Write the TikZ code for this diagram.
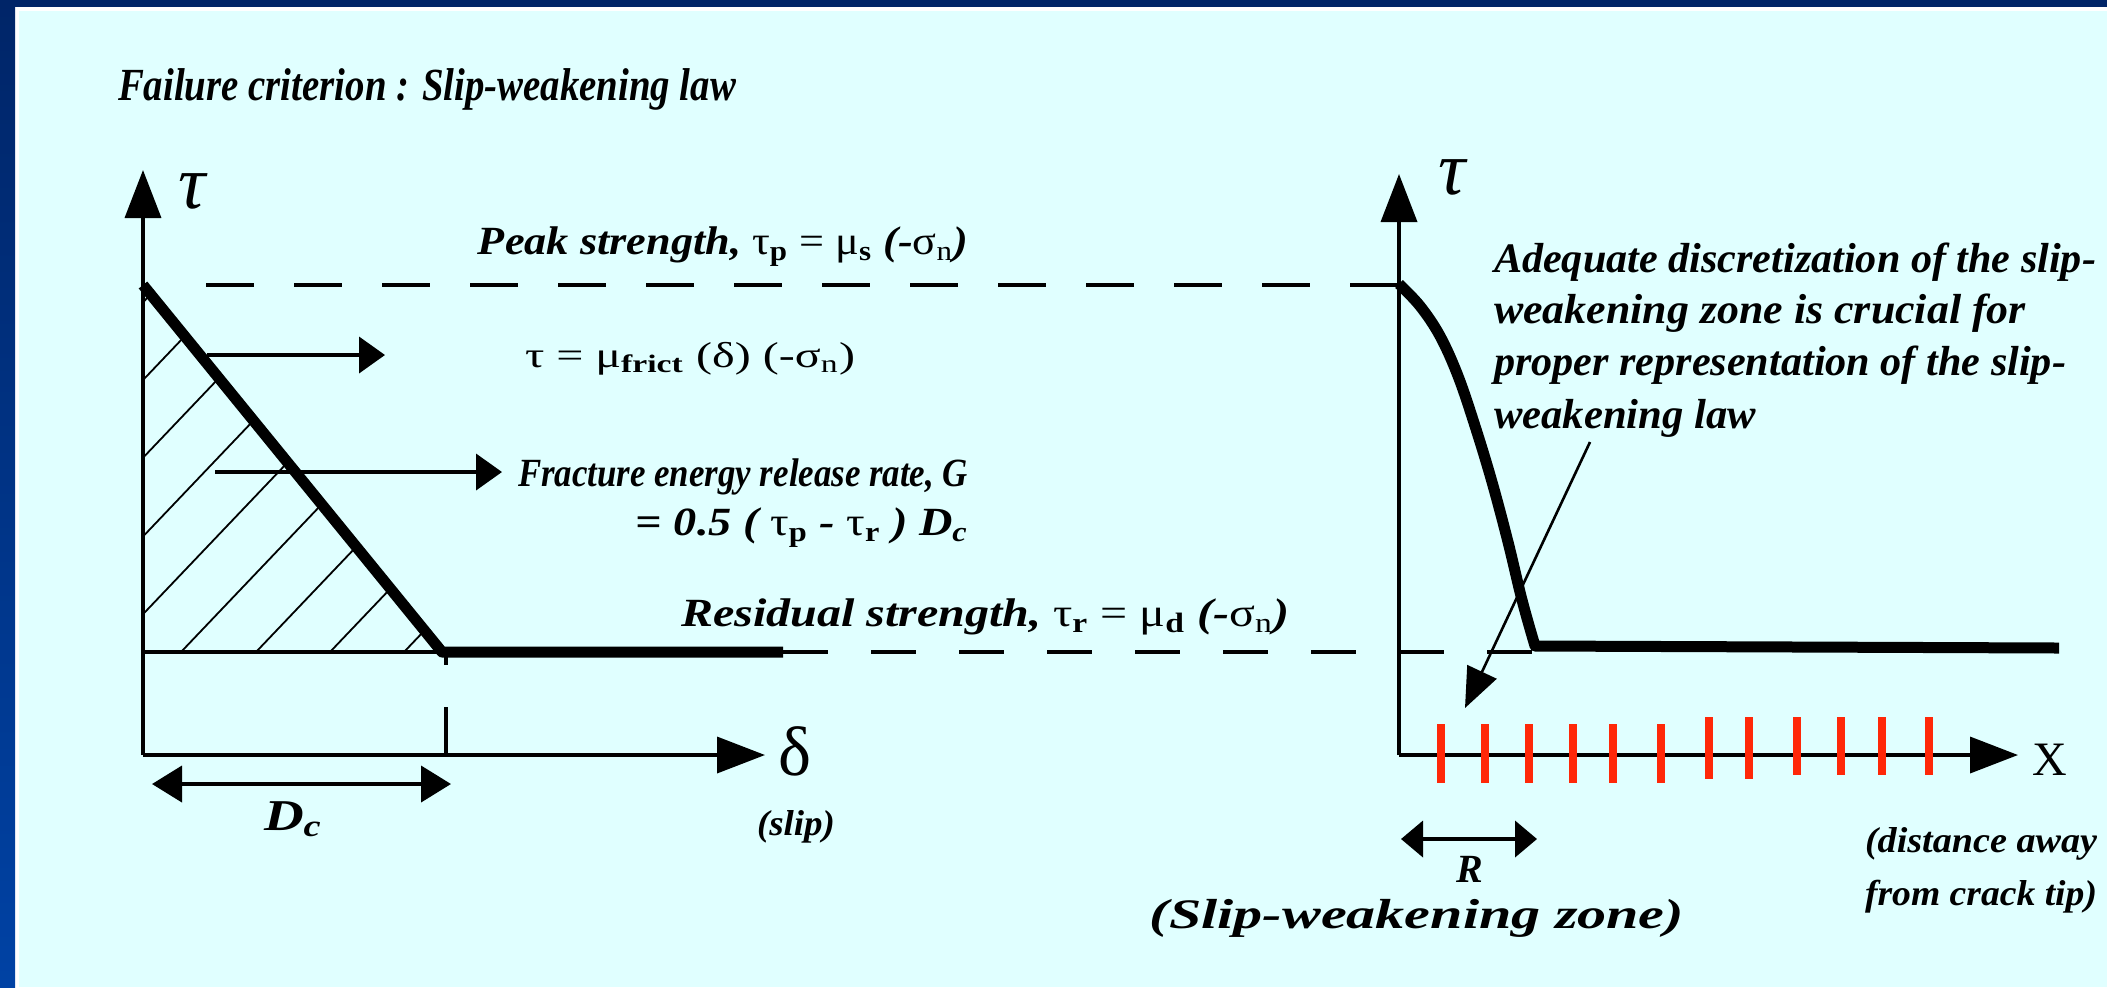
\documentclass[tikz,border=0pt]{standalone}
\usepackage{fontspec}
\setmainfont{Liberation Serif}
\usepackage{graphicx}
\usetikzlibrary{arrows.meta}
\definecolor{bgcyan}{RGB}{224,255,255}
\definecolor{navy}{RGB}{0,37,104}
\definecolor{navyb}{RGB}{0,66,164}
\definecolor{tickred}{RGB}{255,40,8}
\newcommand{\fitw}[2]{\resizebox{#1}{\height}{#2}}
\newcommand{\sbb}[1]{\textsubscript{\upshape\bfseries #1}}
\newcommand{\gk}[1]{{\upshape\mdseries #1}}
\tikzset{
  lbl/.style={inner sep=0pt, outer sep=0pt, font=\fontsize{20pt}{23pt}\selectfont\bfseries\itshape},
  rlbl/.style={inner sep=0pt, outer sep=0pt, font=\fontsize{18pt}{21pt}\selectfont},
  blk/.style={inner sep=0pt, outer sep=0pt, anchor=base west, font=\fontsize{21pt}{24pt}\selectfont\bfseries\itshape},
  axisarr/.style={line width=1.8pt, -{Triangle[length=24pt,width=18pt]}},
  annarr/.style={line width=2pt, -{Triangle[length=13pt,width=18pt]}},
  dcarr/.style={line width=2pt, {Triangle[length=15pt,width=18pt]}-{Triangle[length=15pt,width=18pt]}},
  rarr/.style={line width=2pt, {Triangle[length=11pt,width=18pt]}-{Triangle[length=11pt,width=18pt]}},
  leader/.style={line width=1.3pt, -{Triangle[length=20pt,width=16pt]}},
  thickln/.style={line width=5.5pt, line join=round},
  thinln/.style={line width=1.7pt},
  hatchln/.style={line width=0.9pt},
  peakdash/.style={line width=1.6pt, dash pattern=on 24pt off 20pt},
  resdash/.style={line width=1.6pt, dash pattern=on 22.5pt off 21.5pt},
  redtick/.style={tickred, line width=4pt},
}
\begin{document}
\begin{tikzpicture}[x=0.5pt,y=-0.5pt]
\useasboundingbox (0,0) rectangle (2107,987);
% background
\fill[bgcyan] (0,0) rectangle (2107,987);
\fill[white] (15,7) rectangle (2107,11);
\fill[white] (15,7) rectangle (19,987);
\fill[navy] (0,0) rectangle (2107,7);
\shade[top color=navy,bottom color=navyb] (0,0) rectangle (15,987);

% ---------- left panel coordinates
\coordinate (O1) at (143,755);
\coordinate (T1) at (143,170);
\coordinate (D1) at (765,755);
\coordinate (P1) at (143,285);
\coordinate (K1) at (442,652);
\coordinate (B1) at (143,652);
\coordinate (E1) at (783,652);
\coordinate (PD0) at (206,285);
\coordinate (PD1) at (1398,285);
\coordinate (RD1) at (1532,652);
\coordinate (TK0) at (446,652);
\coordinate (TK1) at (446,665);
\coordinate (TK2) at (446,707);
\coordinate (TK3) at (446,755);

% hatching
\begin{scope}
  \clip (P1) -- (K1) -- (B1) -- cycle;
  \foreach \xk in {-190,-116,-42,33,107,181,256,330,404} {
    \draw[hatchln] ({\xk-60},715) -- ({\xk+560},64);
  }
\end{scope}

% dashed guide lines
\draw[peakdash] (PD0) -- (PD1);
\draw[resdash] (E1) -- (RD1);

% baseline and thick law
\draw[thinln] (B1) -- (K1);
\draw[thickln] (P1) -- (K1) -- (E1);
\draw[thinln] (TK0) -- (TK1);
\draw[thinln] (TK2) -- (TK3);

% axes
\draw[axisarr] (O1) -- (T1);
\draw[axisarr] (O1) -- (D1);

% annotation arrows
\coordinate (A1s) at (207,355); \coordinate (A1e) at (385,355);
\coordinate (A2s) at (215,472); \coordinate (A2e) at (502,472);
\draw[annarr] (A1s) -- (A1e);
\draw[annarr] (A2s) -- (A2e);

% Dc arrow
\coordinate (DCa) at (152,784); \coordinate (DCb) at (451,784);
\draw[dcarr] (DCa) -- (DCb);

% ---------- right panel
\coordinate (O2) at (1399,755);
\coordinate (T2) at (1399,174);
\coordinate (X2) at (2018,755);
\coordinate (C2) at (2059,648);
\draw[axisarr] (O2) -- (T2);
\draw[axisarr] (O2) -- (X2);
\draw[thickln] plot[smooth, tension=0.6] coordinates {(1399,284) (1420,306) (1440,336) (1458,376) (1475,426) (1492,482) (1508,542) (1522,600) (1535,646)} -- (C2);

% red discretisation ticks
\foreach \xt/\ya/\yb in {1441/724/783,1485/724/783,1529/724/783,1573/724/783,1613/724/783,1661/724/783,
                         1709/717/779,1749/717/779,1797/717/775,1841/717/775,1882/717/775,1929/717/775} {
  \draw[redtick] (\xt,\ya) -- (\xt,\yb);
}

% leader arrow
\coordinate (L0) at (1590,442);
\coordinate (L1) at (1465,708);
\draw[leader] (L0) -- (L1);

% R arrow
\coordinate (Ra) at (1401,839); \coordinate (Rb) at (1537,839);
\draw[rarr] (Ra) -- (Rb);

% ---------- texts
\node[lbl, anchor=base west, font=\fontsize{23pt}{26pt}\selectfont\bfseries\itshape] (title) at (118,100)
  {\fitw{309pt}{Failure criterion : Slip-weakening law}};
\node[inner sep=0pt, anchor=base, font=\fontsize{38pt}{38pt}\selectfont\itshape] (tauL) at (192,208) {τ};
\node[inner sep=0pt, anchor=base, font=\fontsize{38pt}{38pt}\selectfont\itshape] (tauR) at (1452,194) {τ};
\node[inner sep=0pt, anchor=base, font=\fontsize{35pt}{35pt}\selectfont] (delta) at (795,775) {δ};
\node[inner sep=0pt, anchor=base, font=\fontsize{24pt}{24pt}\selectfont] (xlab) at (2050,775) {X};

\node[lbl, anchor=base east] (peak) at (968,254)
  {\fitw{245pt}{Peak strength, \gk{τ}\sbb{p} \gk{= μ}\sbb{s} (-\gk{σ}\textsubscript{\gk{n}})}};
\node[rlbl, anchor=base west] (taueq) at (525,367)
  {\fitw{165pt}{τ = μ\sbb{frict} (δ) (-σ\textsubscript{n})}};
\node[lbl, anchor=base west] (frac) at (518,486)
  {\fitw{225pt}{Fracture energy release rate, G}};
\node[lbl, anchor=base east] (geq) at (968,535)
  {\fitw{166pt}{= 0.5 ( \gk{τ}\sbb{p} - \gk{τ}\sbb{r} ) D\textsubscript{c}}};
\node[lbl, anchor=base west] (resid) at (681,626)
  {\fitw{304pt}{Residual strength, \gk{τ}\sbb{r} \gk{= μ}\sbb{d} (-\gk{σ}\textsubscript{\gk{n}})}};

\node[lbl, anchor=base, font=\fontsize{22pt}{22pt}\selectfont\bfseries\itshape] (dc) at (293,830)
  {\fitw{29pt}{D\textsubscript{c}}};
\node[lbl, anchor=base, font=\fontsize{18pt}{18pt}\selectfont\bfseries\itshape] (slip) at (796,835)
  {\fitw{39pt}{(slip)}};

\node[blk] (adq1) at (1494,272) {\fitw{301pt}{Adequate discretization of the slip-}};
\node[blk] (adq2) at (1494,323) {\fitw{266pt}{weakening zone is crucial for}};
\node[blk] (adq3) at (1494,375) {\fitw{286pt}{proper representation of the slip-}};
\node[blk] (adq4) at (1494,428) {\fitw{131pt}{weakening law}};

\node[lbl, anchor=base, font=\fontsize{20pt}{20pt}\selectfont\bfseries\itshape] (rlab) at (1470,882) {R};
\node[lbl, anchor=base, font=\fontsize{21pt}{21pt}\selectfont\bfseries\itshape] (swz) at (1417,928)
  {\fitw{267pt}{(Slip-weakening zone)}};
\node[lbl, anchor=base, font=\fontsize{18pt}{18pt}\selectfont\bfseries\itshape] (dist1) at (1981,852)
  {\fitw{116pt}{(distance away}};
\node[lbl, anchor=base, font=\fontsize{18pt}{18pt}\selectfont\bfseries\itshape] (dist2) at (1981,905)
  {\fitw{116pt}{from crack tip)}};
\end{tikzpicture}
\end{document}
